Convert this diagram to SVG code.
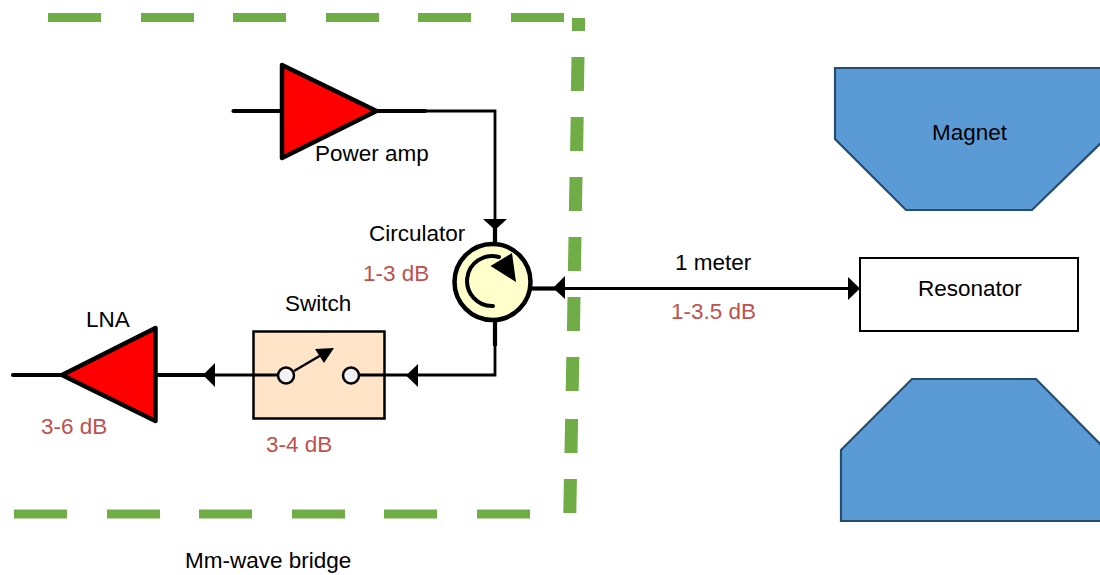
<svg xmlns="http://www.w3.org/2000/svg" width="1100" height="575" viewBox="0 0 1100 575">
<style>
text{font-family:"Liberation Sans",Arial,sans-serif;font-size:22.5px;fill:#000}
.loss{fill:#c0504d}
.amp{fill:#f00;stroke:#000;stroke-width:4.5;stroke-linejoin:round}
.w{fill:none;stroke:#000;stroke-width:2.8}
.b{fill:none;stroke:#000;stroke-width:4.2}
.a{fill:#000}
.mag{fill:#5b9bd5;stroke:#264d6e;stroke-width:2.2}
.dash{fill:none;stroke:#70ad47;stroke-width:9}
</style>
<rect width="1100" height="575" fill="#fff"/>
<g id="bridge-border">
<path class="dash" d="M48 17.500H101M141 17.500H194M233 17.500H286M326 17.500H379M418 17.500H471M511 17.500H564"/>
<path class="dash" d="M14 514H67M107 514H160M199 514H252M292 514H345M384 514H437M477 514H530"/>
<path d="M578.500 18V31M578 57L577.400 91M577.200 117L576.600 151M576 177L575.400 211M575 237L574.400 271M574 297L573.400 331M572.800 357L572.200 391M571.600 419L571 453M570.400 479L569.800 513" fill="none" stroke="#70ad47" stroke-width="13"/>
<text x="185" y="568">Mm-wave bridge</text>
</g>
<g id="connectors">
<path class="w" d="M424 111H495V222"/>
<path class="a" d="M483 219H507L495 230Z"/>
<path class="b" d="M495 228V243"/>
<path class="w" d="M560 288.500H850"/>
<path class="b" d="M531 288.500H556"/>
<path class="a" d="M565 276V299L553 288Z"/>
<path class="a" d="M848 277L860 288.500L848 300Z"/>
<path class="w" d="M495 344V375H210"/>
<path class="b" d="M495 321V346"/>
<path class="a" d="M418 364V387L406 375.500Z"/>
<path class="a" d="M215 363V387L203 375Z"/>
<path class="b" d="M157 375H205"/>
</g>
<g id="power-amp">
<path class="b" d="M233.500 111H282M376 111H425" stroke-linecap="round"/>
<path class="amp" d="M282 65L376.500 111L282 158Z"/>
<text x="315" y="161">Power amp</text>
</g>
<g id="circulator">
<circle cx="492.500" cy="282" r="38" fill="#ffffcc" stroke="#000" stroke-width="4.500"/>
<path d="M493 306A25 25 0 1 1 499 257" fill="none" stroke="#000" stroke-width="4" stroke-linecap="round"/>
<path class="a" d="M490.500 266L512 253L516 282Z"/>
<text x="369" y="241">Circulator</text>
<text class="loss" x="363" y="281">1-3 dB</text>
</g>
<g id="switch">
<rect x="253.500" y="331.500" width="131" height="87" fill="#ffe4c8" stroke="#000" stroke-width="2.500"/>
<path class="w" d="M254 375H278M359 375H385"/>
<path d="M294 371L323 354" stroke="#000" stroke-width="2.500" fill="none"/>
<path class="a" d="M315 349L334 348L324 363Z"/>
<circle cx="286" cy="375.500" r="8" fill="#f2f2f2" stroke="#000" stroke-width="2.500"/>
<circle cx="351" cy="375.500" r="8" fill="#f2f2f2" stroke="#000" stroke-width="2.500"/>
<text x="285" y="311">Switch</text>
<text class="loss" x="266" y="452">3-4 dB</text>
</g>
<g id="lna">
<path class="b" d="M13 375H62" stroke-linecap="round"/>
<path class="amp" d="M62 375L155.500 328V421Z"/>
<text x="86" y="327">LNA</text>
<text class="loss" x="41" y="434">3-6 dB</text>
</g>
<g id="link-labels">
<text x="675" y="270">1 meter</text>
<text class="loss" x="671" y="319">1-3.5 dB</text>
</g>
<g id="resonator">
<rect x="860" y="258" width="218" height="73" fill="#fff" stroke="#000" stroke-width="2"/>
<text x="918" y="296">Resonator</text>
</g>
<g id="magnet-top">
<path class="mag" d="M835 68H1105V139L1032 210H906L835 139Z"/>
<text x="932" y="140">Magnet</text>
</g>
<g id="magnet-bottom">
<path class="mag" d="M841 450L912 379H1036L1106 450V521H841Z"/>
</g>
</svg>
